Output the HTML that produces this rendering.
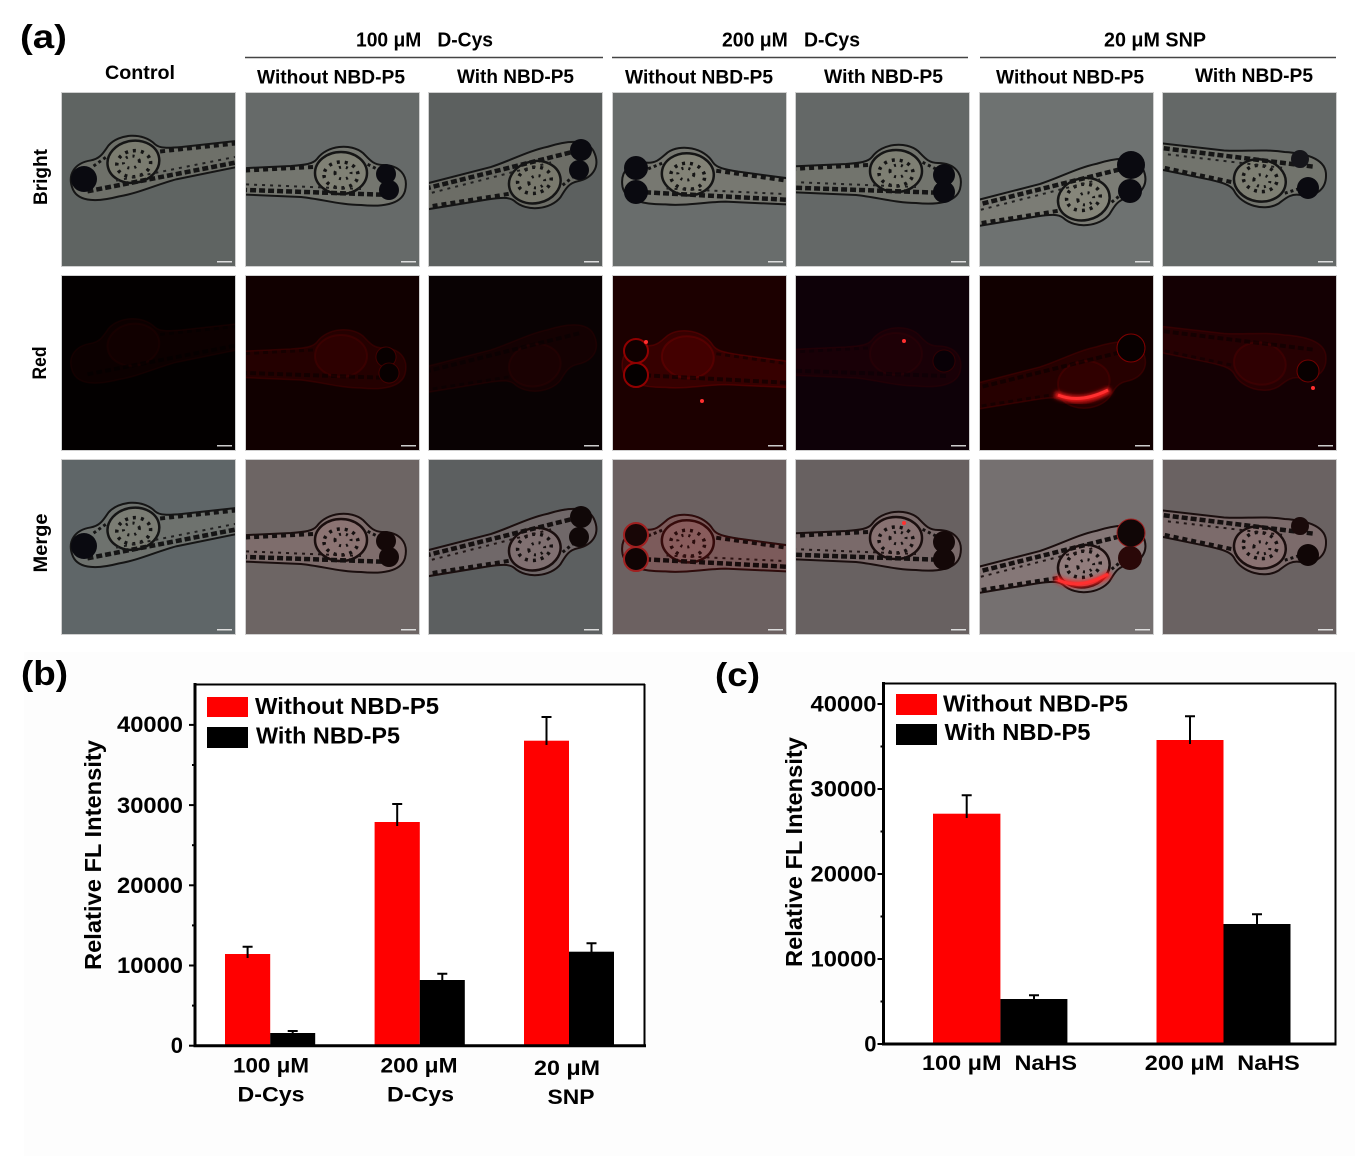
<!DOCTYPE html>
<html><head><meta charset="utf-8"><style>
html,body{margin:0;padding:0;background:#fff;}
svg{display:block;}
text{font-family:"Liberation Sans",Arial,sans-serif;font-weight:bold;fill:#000;}
</style></head><body>
<svg width="1355" height="1156" viewBox="0 0 1355 1156" xmlns="http://www.w3.org/2000/svg" xmlns:xlink="http://www.w3.org/1999/xlink">
<defs>
<filter id="glow" x="-50%" y="-50%" width="200%" height="200%"><feGaussianBlur stdDeviation="2"/></filter>
<g id="fB">
<path d="M-4,6 C-8,-10 2,-20 18,-20 C28,-20 32,-26 38,-32 C50,-42 74,-40 84,-26 C88,-21 96,-20 110,-19 L240,-13 L240,6 L100,12 C80,14 60,20 40,20 C20,22 0,20 -4,6 Z" fill="#c2b790" fill-opacity="0.16" stroke="#151515" stroke-width="2"/>
<ellipse cx="60" cy="-12" rx="26" ry="21" fill="#cfc59c" fill-opacity="0.14" stroke="#151515" stroke-width="2.5"/>
<ellipse cx="60" cy="-10" rx="17" ry="13" fill="none" stroke="#151515" stroke-width="3.5" stroke-dasharray="3 5"/>
<ellipse cx="58" cy="-12" rx="8" ry="6" fill="none" stroke="#151515" stroke-width="3" stroke-dasharray="2 5"/>
<path d="M10,10 L240,2" stroke="#151515" stroke-width="4.5" stroke-dasharray="6 3" fill="none"/>
<path d="M88,-18 L240,-10" stroke="#151515" stroke-width="4" stroke-dasharray="5 4" fill="none"/>
<path d="M40,4 L240,-4" stroke="#202020" stroke-width="2" stroke-dasharray="3 5" fill="none"/>
<path d="M20,-14 L36,-22" stroke="#151515" stroke-width="3" stroke-dasharray="3 3" fill="none"/>
</g>
<g id="fM">
<path d="M-4,6 C-8,-10 2,-20 18,-20 C28,-20 32,-26 38,-32 C50,-42 74,-40 84,-26 C88,-21 96,-20 110,-19 L240,-13 L240,6 L100,12 C80,14 60,20 40,20 C20,22 0,20 -4,6 Z" fill="#d89a9a" fill-opacity="0.16" stroke="#1a0e0e" stroke-width="2"/>
<ellipse cx="60" cy="-12" rx="26" ry="21" fill="#e0a0a0" fill-opacity="0.14" stroke="#1a0e0e" stroke-width="2.5"/>
<ellipse cx="60" cy="-10" rx="17" ry="13" fill="none" stroke="#151010" stroke-width="3.5" stroke-dasharray="3 5"/>
<ellipse cx="58" cy="-12" rx="8" ry="6" fill="none" stroke="#151010" stroke-width="3" stroke-dasharray="2 5"/>
<path d="M10,10 L240,2" stroke="#151010" stroke-width="4.5" stroke-dasharray="6 3" fill="none"/>
<path d="M88,-18 L240,-10" stroke="#151010" stroke-width="4" stroke-dasharray="5 4" fill="none"/>
<path d="M40,4 L240,-4" stroke="#201515" stroke-width="2" stroke-dasharray="3 5" fill="none"/>
<path d="M20,-14 L36,-22" stroke="#151010" stroke-width="3" stroke-dasharray="3 3" fill="none"/>
</g>
<g id="fR">
<path d="M-4,6 C-8,-10 2,-20 18,-20 C28,-20 32,-26 38,-32 C50,-42 74,-40 84,-26 C88,-21 96,-20 110,-19 L240,-13 L240,6 L100,12 C80,14 60,20 40,20 C20,22 0,20 -4,6 Z" fill="#7a0000" fill-opacity="0.4" stroke="#900000" stroke-opacity="0.5" stroke-width="1.5"/>
<ellipse cx="60" cy="-12" rx="26" ry="21" fill="#900000" fill-opacity="0.25" stroke="#900000" stroke-opacity="0.5" stroke-width="2"/>
<path d="M10,10 L240,2" stroke="#000" stroke-opacity="0.6" stroke-width="4" stroke-dasharray="6 3" fill="none"/>
<path d="M88,-18 L240,-10" stroke="#000" stroke-opacity="0.5" stroke-width="3" stroke-dasharray="5 4" fill="none"/>
</g>
</defs>
<rect width="1355" height="1156" fill="#fff"/>
<rect x="24" y="652" width="1331" height="504" fill="#fdfdfd"/>

<!-- headers -->
<text x="20" y="48" font-size="33" textLength="47" lengthAdjust="spacingAndGlyphs">(a)</text>
<text x="356" y="46.5" font-size="20" textLength="137" lengthAdjust="spacingAndGlyphs">100 μM&#160;&#160; D-Cys</text>
<text x="722" y="46.5" font-size="20" textLength="138" lengthAdjust="spacingAndGlyphs">200 μM&#160;&#160; D-Cys</text>
<text x="1104" y="46.5" font-size="20" textLength="102" lengthAdjust="spacingAndGlyphs">20 μM SNP</text>
<line x1="245" y1="57.5" x2="603" y2="57.5" stroke="#444" stroke-width="1.5"/>
<line x1="612" y1="57.5" x2="968" y2="57.5" stroke="#444" stroke-width="1.5"/>
<line x1="980" y1="57.5" x2="1336" y2="57.5" stroke="#444" stroke-width="1.5"/>
<text x="105" y="79" font-size="19" textLength="70" lengthAdjust="spacingAndGlyphs">Control</text>
<text x="257" y="83.5" font-size="19" textLength="148" lengthAdjust="spacingAndGlyphs">Without NBD-P5</text>
<text x="457" y="83" font-size="19" textLength="117" lengthAdjust="spacingAndGlyphs">With NBD-P5</text>
<text x="625" y="83.5" font-size="19" textLength="148" lengthAdjust="spacingAndGlyphs">Without NBD-P5</text>
<text x="824" y="83" font-size="19" textLength="119" lengthAdjust="spacingAndGlyphs">With NBD-P5</text>
<text x="996" y="83.5" font-size="19" textLength="148" lengthAdjust="spacingAndGlyphs">Without NBD-P5</text>
<text x="1195" y="82" font-size="19" textLength="118" lengthAdjust="spacingAndGlyphs">With NBD-P5</text>
<text transform="translate(47,177) rotate(-90)" text-anchor="middle" font-size="19" textLength="56" lengthAdjust="spacingAndGlyphs">Bright</text>
<text transform="translate(46,363) rotate(-90)" text-anchor="middle" font-size="19" textLength="33" lengthAdjust="spacingAndGlyphs">Red</text>
<text transform="translate(47,543) rotate(-90)" text-anchor="middle" font-size="19" textLength="59" lengthAdjust="spacingAndGlyphs">Merge</text>

<!-- ROW 1 Bright -->
<svg x="62" y="93" width="173" height="173"><rect width="173" height="173" fill="#5f6462"/><use xlink:href="#fB" href="#fB" transform="translate(14,90) rotate(-9)"/><circle cx="22" cy="86" r="13" fill="#0a0a10"/><rect x="155" y="168" width="15" height="1.5" fill="#ddd"/></svg>
<svg x="246" y="93" width="173" height="173"><rect width="173" height="173" fill="#666a69"/><use href="#fB" transform="translate(155,92) scale(-1,1)"/><circle cx="140" cy="81" r="10" fill="#0a0a10"/><circle cx="143" cy="97" r="10" fill="#0a0a10"/><rect x="155" y="168" width="15" height="1.5" fill="#ddd"/></svg>
<svg x="429" y="93" width="173" height="173"><rect width="173" height="173" fill="#5c605f"/><use href="#fB" transform="translate(162,65) rotate(-12) scale(-1,-1)"/><circle cx="152" cy="57" r="11" fill="#0a0a10"/><circle cx="150" cy="77" r="10" fill="#0a0a10"/><rect x="155" y="168" width="15" height="1.5" fill="#ddd"/></svg>
<svg x="613" y="93" width="173" height="173"><rect width="173" height="173" fill="#696d6c"/><use href="#fB" transform="translate(14,88) rotate(5)"/><circle cx="23" cy="75" r="12" fill="#0a0a10"/><circle cx="23" cy="99" r="12" fill="#0a0a10"/><rect x="155" y="168" width="15" height="1.5" fill="#ddd"/></svg>
<svg x="796" y="93" width="173" height="173"><rect width="173" height="173" fill="#646867"/><use href="#fB" transform="translate(160,90) scale(-1,1)"/><circle cx="148" cy="82" r="11" fill="#0a0a10"/><circle cx="148" cy="99" r="11" fill="#0a0a10"/><rect x="155" y="168" width="15" height="1.5" fill="#ddd"/></svg>
<svg x="980" y="93" width="173" height="173"><rect width="173" height="173" fill="#6e7271"/><use href="#fB" transform="translate(160,82) rotate(-12) scale(-1,-1)"/><circle cx="151" cy="72" r="14" fill="#0a0a10"/><circle cx="150" cy="98" r="12" fill="#0a0a10"/><rect x="155" y="168" width="15" height="1.5" fill="#ddd"/></svg>
<svg x="1163" y="93" width="173" height="173"><rect width="173" height="173" fill="#646867"/><use href="#fB" transform="translate(158,85) rotate(9) scale(-1,-1)"/><circle cx="145" cy="95" r="11" fill="#0a0a10"/><circle cx="137" cy="66" r="9" fill="#15151a"/><rect x="155" y="168" width="15" height="1.5" fill="#ddd"/></svg>

<!-- ROW 2 Red -->
<svg x="62" y="276" width="173" height="174"><rect width="173" height="174" fill="#030000"/><use href="#fR" opacity="0.2" transform="translate(14,90) rotate(-9)"/><rect x="155" y="169" width="15" height="1.5" fill="#ccc"/></svg>
<svg x="246" y="276" width="173" height="174"><rect width="173" height="174" fill="#110000"/><use href="#fR" opacity="0.45" transform="translate(155,92) scale(-1,1)"/><circle cx="140" cy="81" r="10" fill="#080000" stroke="#700000" stroke-opacity="0.5"/><circle cx="143" cy="97" r="10" fill="#080000" stroke="#700000" stroke-opacity="0.5"/><rect x="155" y="169" width="15" height="1.5" fill="#ccc"/></svg>
<svg x="429" y="276" width="173" height="174"><rect width="173" height="174" fill="#090203"/><use href="#fR" opacity="0.25" transform="translate(162,65) rotate(-12) scale(-1,-1)"/><rect x="155" y="169" width="15" height="1.5" fill="#ccc"/></svg>
<svg x="613" y="276" width="173" height="174"><rect width="173" height="174" fill="#1c0000"/><use href="#fR" opacity="0.7" transform="translate(14,88) rotate(5)"/><circle cx="23" cy="75" r="12" fill="#100000" stroke="#900000" stroke-width="2"/><circle cx="23" cy="99" r="12" fill="#050000" stroke="#900000" stroke-width="2"/><circle cx="33" cy="66" r="2" fill="#ff3030"/><circle cx="89" cy="125" r="2" fill="#ff3030"/><rect x="155" y="169" width="15" height="1.5" fill="#ccc"/></svg>
<svg x="796" y="276" width="173" height="174"><rect width="173" height="174" fill="#0e0108"/><use href="#fR" opacity="0.25" transform="translate(160,90) scale(-1,1)"/><circle cx="148" cy="85" r="11" fill="#080006" stroke="#500000" stroke-opacity="0.5"/><circle cx="108" cy="65" r="2" fill="#ff3030"/><rect x="155" y="169" width="15" height="1.5" fill="#ccc"/></svg>
<svg x="980" y="276" width="173" height="174"><rect width="173" height="174" fill="#110000"/><use href="#fR" opacity="0.5" transform="translate(160,82) rotate(-12) scale(-1,-1)"/><circle cx="151" cy="72" r="14" fill="#080000" stroke="#800000"/><path d="M75,118 Q100,130 130,114" stroke="#ff1a1a" stroke-width="6" fill="none" filter="url(#glow)"/><path d="M78,119 Q100,128 128,114" stroke="#ff3030" stroke-width="3" fill="none"/><rect x="155" y="169" width="15" height="1.5" fill="#ccc"/></svg>
<svg x="1163" y="276" width="173" height="174"><rect width="173" height="174" fill="#140003"/><use href="#fR" opacity="0.45" transform="translate(158,85) rotate(9) scale(-1,-1)"/><circle cx="145" cy="95" r="11" fill="#080000" stroke="#700000"/><circle cx="150" cy="112" r="2" fill="#ff3030"/><rect x="155" y="169" width="15" height="1.5" fill="#ccc"/></svg>

<!-- ROW 3 Merge -->
<svg x="62" y="460" width="173" height="174"><rect width="173" height="174" fill="#5f6668"/><use href="#fB" transform="translate(14,90) rotate(-9)"/><circle cx="22" cy="86" r="13" fill="#0a0a10"/><rect x="155" y="169" width="15" height="1.5" fill="#ddd"/></svg>
<svg x="246" y="460" width="173" height="174"><rect width="173" height="174" fill="#6d6564"/><use href="#fM" transform="translate(155,92) scale(-1,1)"/><circle cx="140" cy="81" r="10" fill="#140808"/><circle cx="143" cy="97" r="10" fill="#140808"/><rect x="155" y="169" width="15" height="1.5" fill="#ddd"/></svg>
<svg x="429" y="460" width="173" height="174"><rect width="173" height="174" fill="#5c5f60"/><use href="#fM" transform="translate(162,65) rotate(-12) scale(-1,-1)"/><circle cx="152" cy="57" r="11" fill="#100808"/><circle cx="150" cy="77" r="10" fill="#100808"/><rect x="155" y="169" width="15" height="1.5" fill="#ddd"/></svg>
<svg x="613" y="460" width="173" height="174"><rect width="173" height="174" fill="#6c6161"/><use href="#fM" transform="translate(14,88) rotate(5)"/><use href="#fR" opacity="0.35" transform="translate(14,88) rotate(5)"/><circle cx="23" cy="75" r="12" fill="#180606" stroke="#a02020" stroke-width="2"/><circle cx="23" cy="99" r="12" fill="#100404" stroke="#a02020" stroke-width="2"/><rect x="155" y="169" width="15" height="1.5" fill="#ddd"/></svg>
<svg x="796" y="460" width="173" height="174"><rect width="173" height="174" fill="#686161"/><use href="#fM" transform="translate(160,90) scale(-1,1)"/><circle cx="148" cy="82" r="11" fill="#140808"/><circle cx="148" cy="99" r="11" fill="#140808"/><circle cx="108" cy="63" r="2" fill="#ff3030"/><rect x="155" y="169" width="15" height="1.5" fill="#ddd"/></svg>
<svg x="980" y="460" width="173" height="174"><rect width="173" height="174" fill="#757070"/><use href="#fM" transform="translate(160,82) rotate(-12) scale(-1,-1)"/><circle cx="151" cy="73" r="14" fill="#100606" stroke="#a02020"/><circle cx="150" cy="98" r="12" fill="#2a0808"/><path d="M75,118 Q100,132 130,114" stroke="#ff1a1a" stroke-width="6" fill="none" filter="url(#glow)"/><path d="M78,120 Q100,130 128,114" stroke="#ff3030" stroke-width="3" fill="none"/><rect x="155" y="169" width="15" height="1.5" fill="#ddd"/></svg>
<svg x="1163" y="460" width="173" height="174"><rect width="173" height="174" fill="#6a6262"/><use href="#fM" transform="translate(158,85) rotate(9) scale(-1,-1)"/><circle cx="145" cy="95" r="11" fill="#100606"/><circle cx="137" cy="66" r="9" fill="#1a0a0a"/><rect x="155" y="169" width="15" height="1.5" fill="#ddd"/></svg>

<!-- tile borders -->
<g fill="none" stroke="#d0d0d0" stroke-width="1">
<rect x="61.5" y="92.5" width="174" height="174"/><rect x="245.5" y="92.5" width="174" height="174"/><rect x="428.5" y="92.5" width="174" height="174"/><rect x="612.5" y="92.5" width="174" height="174"/><rect x="795.5" y="92.5" width="174" height="174"/><rect x="979.5" y="92.5" width="174" height="174"/><rect x="1162.5" y="92.5" width="174" height="174"/>
<rect x="61.5" y="275.5" width="174" height="175"/><rect x="245.5" y="275.5" width="174" height="175"/><rect x="428.5" y="275.5" width="174" height="175"/><rect x="612.5" y="275.5" width="174" height="175"/><rect x="795.5" y="275.5" width="174" height="175"/><rect x="979.5" y="275.5" width="174" height="175"/><rect x="1162.5" y="275.5" width="174" height="175"/>
<rect x="61.5" y="459.5" width="174" height="175"/><rect x="245.5" y="459.5" width="174" height="175"/><rect x="428.5" y="459.5" width="174" height="175"/><rect x="612.5" y="459.5" width="174" height="175"/><rect x="795.5" y="459.5" width="174" height="175"/><rect x="979.5" y="459.5" width="174" height="175"/><rect x="1162.5" y="459.5" width="174" height="175"/>
</g>

<!-- ============ (b) ============ -->
<text x="21" y="685" font-size="34" textLength="47" lengthAdjust="spacingAndGlyphs">(b)</text>
<rect x="196" y="685" width="448" height="360" fill="#fff"/>
<rect x="225" y="954" width="45.2" height="91.7" fill="#ff0000"/>
<rect x="270.2" y="1033" width="45" height="12.7" fill="#000"/>
<rect x="374.6" y="822" width="45.2" height="223.7" fill="#ff0000"/>
<rect x="419.8" y="980" width="45" height="65.7" fill="#000"/>
<rect x="524" y="740.7" width="45" height="305" fill="#ff0000"/>
<rect x="569" y="951.7" width="45" height="94" fill="#000"/>
<g stroke="#000" stroke-width="2" fill="none">
<path d="M247.6,958 V946.7 M242.6,946.7 H252.6"/>
<path d="M292.7,1034 V1031 M287.7,1031 H297.7"/>
<path d="M397.2,826 V804 M392.2,804 H402.2"/>
<path d="M442.3,982 V973.7 M437.3,973.7 H447.3"/>
<path d="M546.5,745 V717 M541.5,717 H551.5"/>
<path d="M591.5,954 V943.3 M586.5,943.3 H596.5"/>
</g>
<line x1="195" y1="683" x2="195" y2="1047" stroke="#000" stroke-width="3"/>
<line x1="193.5" y1="1045.7" x2="646" y2="1045.7" stroke="#000" stroke-width="3"/>
<line x1="195" y1="684.5" x2="645" y2="684.5" stroke="#000" stroke-width="2"/>
<line x1="644.5" y1="684" x2="644.5" y2="1046" stroke="#000" stroke-width="2"/>
<g stroke="#000" stroke-width="2">
<line x1="189" y1="1045.7" x2="195" y2="1045.7"/><line x1="189" y1="965.5" x2="195" y2="965.5"/><line x1="189" y1="885.3" x2="195" y2="885.3"/><line x1="189" y1="805.1" x2="195" y2="805.1"/><line x1="189" y1="724.9" x2="195" y2="724.9"/>
<line x1="192" y1="1005.6" x2="195" y2="1005.6"/><line x1="192" y1="925.4" x2="195" y2="925.4"/><line x1="192" y1="845.2" x2="195" y2="845.2"/><line x1="192" y1="765" x2="195" y2="765"/>
</g>
<g font-size="22" text-anchor="end">
<text x="183" y="1053">0</text>
<text x="183" y="973" textLength="66" lengthAdjust="spacingAndGlyphs">10000</text>
<text x="183" y="893" textLength="66" lengthAdjust="spacingAndGlyphs">20000</text>
<text x="183" y="813" textLength="66" lengthAdjust="spacingAndGlyphs">30000</text>
<text x="183" y="732" textLength="66" lengthAdjust="spacingAndGlyphs">40000</text>
</g>
<text transform="translate(101,855) rotate(-90)" text-anchor="middle" font-size="23" textLength="230" lengthAdjust="spacingAndGlyphs">Relative FL Intensity</text>
<rect x="207" y="697" width="41" height="20" fill="#ff0000"/>
<rect x="207" y="727" width="41" height="21" fill="#000"/>
<text x="255" y="714" font-size="23" textLength="184" lengthAdjust="spacingAndGlyphs">Without NBD-P5</text>
<text x="256" y="743.5" font-size="23" textLength="144" lengthAdjust="spacingAndGlyphs">With NBD-P5</text>
<g font-size="21.5" text-anchor="middle">
<text x="271" y="1072.5" textLength="76" lengthAdjust="spacingAndGlyphs">100 μM</text>
<text x="271" y="1101.5" textLength="67" lengthAdjust="spacingAndGlyphs">D-Cys</text>
<text x="419" y="1072.5" textLength="77" lengthAdjust="spacingAndGlyphs">200 μM</text>
<text x="420.5" y="1101.5" textLength="67" lengthAdjust="spacingAndGlyphs">D-Cys</text>
<text x="567" y="1075" textLength="66" lengthAdjust="spacingAndGlyphs">20 μM</text>
<text x="571" y="1104" textLength="47" lengthAdjust="spacingAndGlyphs">SNP</text>
</g>

<!-- ============ (c) ============ -->
<text x="715" y="686" font-size="33" textLength="45" lengthAdjust="spacingAndGlyphs">(c)</text>
<rect x="884" y="684" width="451" height="360" fill="#fff"/>
<rect x="933" y="813.7" width="67.4" height="230.3" fill="#ff0000"/>
<rect x="1000.4" y="999" width="67" height="45" fill="#000"/>
<rect x="1156.5" y="740" width="67" height="304" fill="#ff0000"/>
<rect x="1223.5" y="924" width="67" height="120" fill="#000"/>
<g stroke="#000" stroke-width="2" fill="none">
<path d="M966.7,818 V795.3 M961.7,795.3 H971.7"/>
<path d="M1034,1001 V995.3 M1029,995.3 H1039"/>
<path d="M1190,744 V716.3 M1185,716.3 H1195"/>
<path d="M1257,926 V914.3 M1252,914.3 H1262"/>
</g>
<line x1="883.5" y1="682" x2="883.5" y2="1045.5" stroke="#000" stroke-width="3"/>
<line x1="882" y1="1044" x2="1336.5" y2="1044" stroke="#000" stroke-width="3"/>
<line x1="883.5" y1="683.5" x2="1336" y2="683.5" stroke="#000" stroke-width="2"/>
<line x1="1335.5" y1="683" x2="1335.5" y2="1045" stroke="#000" stroke-width="2"/>
<g stroke="#000" stroke-width="2">
<line x1="877.5" y1="1044" x2="883.5" y2="1044"/><line x1="877.5" y1="959" x2="883.5" y2="959"/><line x1="877.5" y1="874" x2="883.5" y2="874"/><line x1="877.5" y1="789" x2="883.5" y2="789"/><line x1="877.5" y1="704" x2="883.5" y2="704"/>
<line x1="880.5" y1="1001.5" x2="883.5" y2="1001.5"/><line x1="880.5" y1="916.5" x2="883.5" y2="916.5"/><line x1="880.5" y1="831.5" x2="883.5" y2="831.5"/><line x1="880.5" y1="746.5" x2="883.5" y2="746.5"/>
</g>
<g font-size="22" text-anchor="end">
<text x="876.5" y="1051.5">0</text>
<text x="876.5" y="966.5" textLength="66" lengthAdjust="spacingAndGlyphs">10000</text>
<text x="876.5" y="881.5" textLength="66" lengthAdjust="spacingAndGlyphs">20000</text>
<text x="876.5" y="796.5" textLength="66" lengthAdjust="spacingAndGlyphs">30000</text>
<text x="876.5" y="711.5" textLength="66" lengthAdjust="spacingAndGlyphs">40000</text>
</g>
<text transform="translate(802,852) rotate(-90)" text-anchor="middle" font-size="23" textLength="230" lengthAdjust="spacingAndGlyphs">Relative FL Intensity</text>
<rect x="896" y="694" width="41" height="21" fill="#ff0000"/>
<rect x="896" y="724" width="41" height="21" fill="#000"/>
<text x="943" y="711.5" font-size="23" textLength="185" lengthAdjust="spacingAndGlyphs">Without NBD-P5</text>
<text x="944.5" y="740" font-size="23" textLength="146" lengthAdjust="spacingAndGlyphs">With NBD-P5</text>
<g font-size="21.5" text-anchor="middle">
<text x="999.5" y="1070" textLength="155" lengthAdjust="spacingAndGlyphs">100 μM&#160; NaHS</text>
<text x="1222.3" y="1070" textLength="155" lengthAdjust="spacingAndGlyphs">200 μM&#160; NaHS</text>
</g>
</svg>
</body></html>
